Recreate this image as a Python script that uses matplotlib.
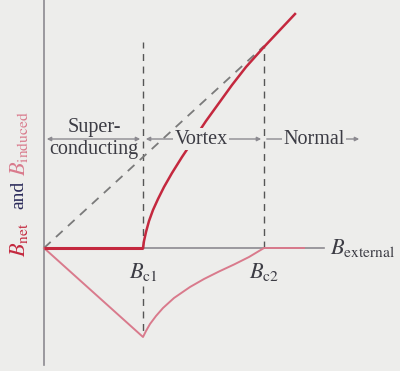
import matplotlib.pyplot as plt
import numpy as np

# Champs critiques (unités arbitraires)
bc1 = 0.99
bc2 = 2.20

# B_net dans l'état vortex puis normal
b_ext_net = [0.99, 1.00, 1.02, 1.05, 1.09, 1.14, 1.20, 1.28, 1.38, 1.50, 1.62, 1.75, 1.88, 2.02, 2.19,
             2.35, 2.51]
b_net = [0.00, 0.07, 0.16, 0.27, 0.38, 0.49, 0.61, 0.75, 0.91, 1.09, 1.27, 1.45, 1.63, 1.81, 2.00,
         2.17, 2.34]

# B_induced (aimantation)
b_ext_ind = [0.00, 0.99, 1.02, 1.06, 1.12, 1.19, 1.30, 1.46, 1.60, 1.75, 1.90, 2.05, 2.20, 2.60]
b_ind = [0.00, -0.89, -0.83, -0.76, -0.68, -0.60, -0.50, -0.39, -0.31, -0.235, -0.165, -0.09, 0.00, 0.00]

# Droite B_net = B_external (sans supraconducteur)
b_diag_x = [0.00, 2.20]
b_diag_y = [0.00, 2.02]

plt.rcParams['mathtext.fontset'] = 'stix'
serif = ['Liberation Serif', 'DejaVu Serif']
fond = '#ededeb'
rouge = '#c4283e'
rose = '#d97a8c'
gris = '#8c8a90'

fig = plt.figure(figsize=(4.0, 3.71), dpi=100, facecolor=fond)
ax = fig.add_axes([0, 0, 1, 1])
ax.set_facecolor(fond)
ax.set_xlim(-0.44, 3.56)
ax.set_ylim(-1.23, 2.48)
ax.axis('off')

# Axes
ax.plot([0, 0], [-1.17, 2.48], color=gris, lw=1.2, zorder=1)
ax.plot([0, 2.80], [0, 0], color=gris, lw=1.2, zorder=1)

# Lignes pointillées des champs critiques
ax.plot([bc1, bc1], [0, 2.06], color='#555555', lw=1.0, dashes=(5, 4), zorder=2)
ax.plot([bc1, bc1], [-0.38, -0.84], color='#555555', lw=1.0, dashes=(5, 4), zorder=2)
ax.plot([bc2, bc2], [0, 2.03], color='#555555', lw=1.0, dashes=(5, 4), zorder=2)
ax.plot(b_diag_x, b_diag_y, color='#7a7a7a', lw=1.3, dashes=(5, 4), zorder=2)

# Courbes
ax.plot([0, bc1], [0, 0], color=rouge, lw=2.2, zorder=4, solid_capstyle='butt')
ax.plot(b_ext_net, b_net, color=rouge, lw=1.8, zorder=4, solid_joinstyle='round')
ax.plot(b_ext_ind, b_ind, color=rose, lw=1.4, zorder=3, solid_joinstyle='round')

# Régions
fl = dict(arrowstyle='<|-|>', color=gris, lw=1.0, mutation_scale=6)
y_reg = 1.09
ax.annotate('', xy=(0, y_reg), xytext=(bc1, y_reg), arrowprops=fl, zorder=3)
ax.annotate('', xy=(bc1, y_reg), xytext=(bc2, y_reg), arrowprops=fl, zorder=3)
ax.annotate('', xy=(3.18, y_reg), xytext=(bc2, y_reg),
            arrowprops=dict(arrowstyle='-|>', color=gris, lw=1.0, mutation_scale=6), zorder=3)

txt = dict(family=serif, fontsize=14.5, color='#3c3c44', zorder=5)
ax.text(0.50, y_reg + 0.02, 'Super-', ha='center', va='bottom', **txt)
ax.text(0.50, y_reg - 0.01, 'conducting', ha='center', va='top', **txt)
ax.text(1.57, y_reg, 'Vortex', ha='center', va='center',
        bbox=dict(facecolor=fond, edgecolor='none', pad=1), **txt)
ax.text(2.70, y_reg, 'Normal', ha='center', va='center',
        bbox=dict(facecolor=fond, edgecolor='none', pad=1), **txt)

# Étiquettes des axes
ax.text(bc1, -0.24, r'$B_{\rm c1}$', ha='center', va='center', fontsize=16, color='#3c3c44')
ax.text(bc2, -0.24, r'$B_{\rm c2}$', ha='center', va='center', fontsize=16, color='#3c3c44')
ax.text(2.86, 0.0, r'$B_{\rm external}$', ha='left', va='center', fontsize=16, color='#3c3c44')

ax.text(-0.25, 0.08, r'$B_{\rm net}$', rotation=90, ha='center', va='center', fontsize=16, color=rouge)
ax.text(-0.25, 0.53, 'and', rotation=90, ha='center', va='center', family=serif, fontsize=14,
        color='#2a2a5a')
ax.text(-0.25, 1.04, r'$B_{\rm induced}$', rotation=90, ha='center', va='center', fontsize=16,
        color=rose)

fig.savefig('out.png', dpi=100, facecolor=fond)
